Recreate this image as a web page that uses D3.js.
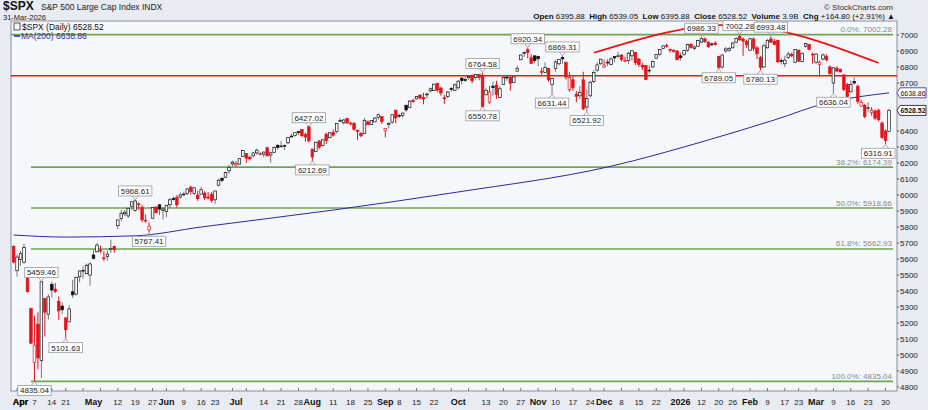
<!DOCTYPE html>
<html><head><meta charset="utf-8">
<script src="https://cdn.jsdelivr.net/npm/d3@7"></script>
<style>body{margin:0;background:#e8ebf1;font-family:"Liberation Sans",Arial,sans-serif}</style>
</head><body><svg id="c" width="928" height="410"></svg>
<script>
const startDate="2025-03-28", endDate="2026-03-31";
const holidays=["2025-04-18","2025-05-26","2025-06-19","2025-07-04","2025-09-01","2025-11-27","2025-12-25","2026-01-01","2026-01-19","2026-02-16"];
// [open, high, low, close]
const ohlc=[
[5679,5685,5572,5581],[5527,5627,5489,5612],[5597,5650,5558,5633],[5580,5695,5571,5671],[5492,5500,5390,5396],[5292,5292,5069,5074],
[4953,5246,4835,5062],[5193,5267,4910,4982],[4965,5460,4856,5457],[5353,5353,5115,5268],[5255,5381,5221,5363],
[5441,5459,5358,5406],[5411,5450,5387,5397],[5335,5367,5220,5276],[5306,5329,5255,5283],
[5232,5233,5102,5158],[5207,5309,5207,5288],[5395,5469,5356,5376],[5381,5489,5371,5485],[5489,5528,5455,5525],
[5529,5554,5478,5529],[5508,5571,5506,5561],[5499,5581,5433,5569],[5625,5659,5597,5604],[5645,5700,5642,5687],
[5655,5683,5635,5650],[5605,5649,5586,5607],[5615,5654,5589,5631],[5662,5721,5638,5664],[5679,5684,5640,5660],
[5808,5846,5786,5844],[5854,5906,5836,5886],[5882,5906,5869,5892],[5869,5925,5857,5917],[5930,5958,5907,5958],
[5903,5969,5895,5963],[5945,5953,5908,5940],[5922,5939,5830,5845],[5842,5878,5826,5842],[5782,5829,5767,5802],
[5855,5922,5855,5922],[5925,5929,5886,5889],[5939,5943,5874,5912],[5903,5923,5847,5912],
[5897,5937,5862,5936],[5939,5982,5918,5970],[5978,5991,5966,5971],[5985,5999,5921,5939],[5987,6017,5978,6000],
[6005,6021,5994,6006],[6009,6043,6000,6038],[6049,6059,6002,6022],[6009,6046,6001,6045],[6000,6027,5963,5977],
[6005,6051,6004,6033],[6012,6024,5968,5982],[5987,6018,5971,5981],[6003,6019,5952,5967],
[5970,6026,5944,6025],[6061,6101,6056,6092],[6105,6108,6080,6092],[6111,6146,6106,6141],[6151,6188,6132,6173],
[6194,6215,6175,6205],[6188,6211,6177,6198],[6193,6228,6191,6227],[6240,6284,6240,6279],
[6259,6262,6201,6230],[6237,6242,6217,6226],[6245,6269,6237,6263],[6263,6290,6251,6280],[6256,6266,6246,6259],
[6255,6272,6236,6268],[6295,6302,6244,6244],[6250,6268,6201,6264],[6265,6304,6263,6297],[6311,6315,6285,6297],
[6304,6336,6303,6306],[6307,6316,6281,6309],[6326,6360,6317,6359],[6368,6382,6360,6363],[6371,6390,6365,6389],
[6397,6397,6375,6390],[6409,6410,6360,6371],[6378,6390,6332,6362],[6427,6427,6327,6339],[6287,6288,6213,6238],
[6272,6330,6272,6330],[6337,6344,6287,6299],[6310,6349,6303,6345],[6380,6390,6318,6340],[6358,6395,6355,6389],
[6390,6410,6365,6374],[6396,6446,6386,6446],[6466,6481,6457,6466],[6451,6474,6441,6469],[6478,6482,6445,6450],
[6445,6457,6434,6449],[6446,6456,6400,6411],[6405,6407,6343,6396],[6384,6394,6361,6370],[6385,6481,6380,6467],
[6457,6466,6438,6439],[6441,6466,6438,6465],[6457,6486,6457,6481],[6486,6509,6472,6502],[6491,6491,6444,6460],
[6401,6416,6360,6416],[6442,6454,6419,6448],[6456,6503,6445,6502],[6530,6532,6448,6482],
[6498,6508,6480,6495],[6496,6513,6484,6512],[6561,6563,6519,6532],[6546,6592,6543,6587],[6591,6601,6577,6584],
[6601,6619,6598,6615],[6625,6627,6598,6606],[6609,6639,6567,6600],[6626,6640,6603,6631],[6651,6671,6640,6664],
[6652,6695,6652,6693],[6698,6698,6642,6656],[6669,6674,6621,6638],[6607,6626,6570,6605],[6615,6650,6605,6644],
[6665,6674,6645,6661],[6654,6699,6651,6688],[6670,6718,6660,6711],[6731,6731,6691,6715],[6722,6750,6707,6716],
[6733,6749,6719,6740],[6746,6754,6698,6714],[6734,6754,6722,6753],[6753,6755,6717,6735],[6743,6765,6551,6553],
[6626,6671,6626,6654],[6580,6680,6570,6644],[6680,6709,6621,6671],[6687,6714,6600,6629],[6610,6678,6605,6664],
[6690,6744,6690,6735],[6737,6752,6715,6735],[6735,6746,6652,6699],[6704,6750,6699,6738],[6774,6808,6774,6792],
[6845,6877,6845,6875],[6885,6900,6863,6891],[6908,6920,6855,6890],[6858,6880,6820,6822],[6870,6870,6825,6840],
[6866,6869,6805,6852],[6770,6795,6751,6771],[6765,6830,6760,6796],[6790,6795,6708,6720],[6690,6733,6631,6728],
[6790,6842,6770,6832],[6820,6850,6810,6846],[6860,6869,6820,6851],[6830,6830,6720,6737],[6660,6770,6645,6734],
[6720,6745,6650,6672],[6630,6650,6580,6617],[6620,6680,6600,6642],[6720,6770,6530,6538],[6550,6660,6522,6603],
[6620,6715,6610,6705],[6710,6780,6700,6766],[6780,6830,6770,6813],[6820,6851,6815,6849],
[6800,6845,6795,6812],[6830,6850,6805,6829],[6815,6860,6810,6850],[6865,6866,6830,6857],[6865,6895,6858,6870],
[6875,6880,6835,6846],[6840,6865,6830,6840],[6840,6895,6820,6886],[6870,6905,6840,6901],[6890,6895,6810,6827],
[6850,6855,6800,6816],[6810,6825,6780,6800],[6810,6812,6720,6721],[6780,6810,6760,6775],[6800,6840,6795,6834],
[6855,6880,6850,6878],[6880,6910,6870,6910],[6915,6935,6910,6932],[6935,6945,6920,6930],
[6910,6915,6890,6905],[6905,6910,6890,6896],[6900,6905,6845,6845],
[6870,6890,6840,6858],[6880,6910,6870,6902],[6905,6945,6895,6940],[6940,6950,6915,6921],[6915,6935,6905,6925],
[6930,6970,6925,6966],[6955,6986,6950,6977],[6975,6985,6950,6960],[6955,6960,6920,6926],[6940,6955,6930,6944],
[6950,6960,6935,6940],[6865,6870,6789,6797],[6800,6880,6790,6875],[6900,6925,6890,6913],[6905,6925,6895,6916],
[6920,6955,6915,6950],[6955,6985,6950,6979],[6990,7002,6965,6970],[6975,6985,6870,6962],[6960,6970,6920,6939],
[6905,6985,6900,6976],[6975,6985,6900,6917],[6920,6930,6850,6883],[6860,6870,6780,6798],[6800,6945,6795,6932],
[6920,6975,6915,6965],[6975,6993,6950,6955],[6960,6975,6935,6941],[6965,6970,6825,6833],[6840,6855,6815,6836],
[6820,6870,6800,6843],[6860,6895,6850,6881],[6880,6890,6860,6870],[6830,6910,6825,6909],
[6905,6910,6830,6837],[6835,6890,6830,6886],[6930,6950,6920,6946],[6940,6945,6905,6910],[6880,6890,6820,6879],
[6830,6885,6820,6881],[6815,6840,6740,6830],[6850,6885,6840,6875],[6865,6880,6835,6845],[6800,6810,6750,6760],
[6700,6800,6636,6795],[6790,6805,6770,6775],[6785,6790,6765,6770],[6750,6755,6650,6660],[6690,6700,6605,6615],
[6645,6715,6640,6690],[6710,6735,6690,6700],[6680,6690,6570,6585],[6555,6595,6550,6578],[6560,6570,6480,6490],
[6540,6580,6520,6545],[6515,6550,6495,6530],[6525,6535,6470,6480],[6530,6540,6460,6470],[6450,6460,6350,6360],
[6400,6410,6317,6340],[6396,6539,6396,6529]];
// MA(200) read at [dayIndex, value]
const maPoints=[[0,5750],[15,5737],[35,5745],[54,5800],[92,5906],[128,6019],[171,6175],[200,6344],[219,6469],[234,6575],[252,6638]];
const fibLevels=[["0.0%",7002.28],["38.2%",6174.39],["50.0%",5918.66],["61.8%",5662.93],["100.0%",4835.04]];
const resistance=6745;
const arcPoints=[[167,6889],[208,7062],[249,6825]];
// [dayIndex, value, labelText, position]
const callouts=[[6,4835,"4835.04","below"],[8,5460,"5459.46","above"],[15,5102,"5101.63","below"],[35,5969,"5968.61","above"],
[39,5767,"5767.41","below"],[85,6427,"6427.02","above"],[86,6213,"6212.69","below"],[135,6765,"6764.58","above"],
[135,6551,"6550.78","below"],[148,6920,"6920.34","above"],[155,6631,"6631.44","below"],[158,6869,"6869.31","above"],
[165,6522,"6521.92","below"],[198,6986,"6986.33","above"],[203,6789,"6789.05","below"],[209,7002,"7002.28","above"],
[215,6780,"6780.13","below"],[218,6993,"6993.48","above"],[236,6636,"6636.04","below"],[251,6317,"6316.91","below"]];
const yTicks=[4800,4900,5000,5100,5200,5300,5400,5500,5600,5700,5800,5900,6000,6100,6200,6300,6400,6500,6600,6700,6800,6900,7000];
const monthNames=["Jan","Feb","Mar","Apr","May","Jun","Jul","Aug","Sep","Oct","Nov","Dec"];

const dates=[];
{let d=new Date(startDate+"T12:00:00Z");const e=new Date(endDate+"T12:00:00Z");
 while(d<=e){const s=d.toISOString().slice(0,10),w=d.getUTCDay();
  if(w!==0&&w!==6&&!holidays.includes(s))dates.push(new Date(d));d=new Date(d.getTime()+864e5);}}

const svg=d3.select("#c");
const L=11,R=897,T=21,B=391;
const x=d3.scaleLinear().domain([0,ohlc.length-1]).range([13.6,889]);
const y=d3.scaleLinear().domain([7000,4900]).range([35,371]);
const NARROW='"Liberation Sans Narrow","Liberation Sans",Arial,sans-serif';

svg.append("rect").attr("x",L).attr("y",T).attr("width",R-L).attr("height",B-T).attr("fill","#f6f7fb").attr("stroke","#8a8f9a");
svg.append("text").attr("x",3).attr("y",10).attr("font-size",12).attr("font-weight","bold").attr("fill","#111").text("$SPX");
svg.append("text").attr("x",41).attr("y",9.5).attr("font-size",8.5).attr("fill","#222").text("S&P 500 Large Cap Index  INDX");
svg.append("text").attr("x",3).attr("y",19.5).attr("font-size",7.5).attr("fill","#222").text("31-Mar-2026");
svg.append("text").attr("x",893).attr("y",10).attr("font-size",8).attr("text-anchor","end").attr("fill","#333").text("© StockCharts.com");
const hdr=svg.append("text").attr("x",895).attr("y",18.5).attr("font-size",8).attr("text-anchor","end").attr("fill","#111");
[["Open ",1],["6395.88  ",0],["High ",1],["6539.05  ",0],["Low ",1],["6395.88  ",0],["Close ",1],["6528.52  ",0],["Volume ",1],["3.9B  ",0],["Chg ",1],["+164.80 (+2.91%) ▲",0]]
.forEach(([t,b])=>hdr.append("tspan").attr("font-weight",b?"bold":"normal").attr("xml:space","preserve").text(t));

svg.append("clipPath").attr("id","cp").append("rect").attr("x",L).attr("y",T).attr("width",R-L).attr("height",B-T);
const g=svg.append("g").attr("clip-path","url(#cp)");

fibLevels.forEach(([p,v],i)=>{
  g.append("line").attr("x1",i===0?L:31).attr("x2",893).attr("y1",y(v)).attr("y2",y(v)).attr("stroke","#6aa84f").attr("stroke-width",1.6);
  g.append("text").attr("x",892).attr("y",y(v)-2.5).attr("text-anchor","end").attr("font-size",8).attr("fill","#888").text(p+": "+v.toFixed(2));
});
g.append("line").attr("x1",L).attr("x2",R).attr("y1",y(resistance)).attr("y2",y(resistance)).attr("stroke","#e31a1c").attr("stroke-width",1.4);
g.append("path").datum(maPoints).attr("fill","none").attr("stroke","#2a2aa0").attr("stroke-width",1)
 .attr("d",d3.line().x(d=>x(d[0])).y(d=>y(d[1])).curve(d3.curveMonotoneX));
g.append("path").datum(arcPoints).attr("fill","none").attr("stroke","#ee1111").attr("stroke-width",1.8)
 .attr("d",d3.line().x(d=>x(d[0])).y(d=>y(d[1])).curve(d3.curveNatural));

const bw=2.6;
ohlc.forEach((d,i)=>{
  const [o,h,l,c]=d; const prev=i>0?ohlc[i-1][3]:o;
  const col=c>=prev?"#111":"#e3141b";
  const cx=x(i);
  g.append("line").attr("x1",cx).attr("x2",cx).attr("y1",y(h)).attr("y2",y(l)).attr("stroke",c>=prev?"#777":"#e3141b").attr("stroke-width",1);
  const top=y(Math.max(o,c)),bot=y(Math.min(o,c));
  g.append("rect").attr("x",cx-bw/2).attr("y",top).attr("width",bw).attr("height",Math.max(0.8,bot-top))
   .attr("fill",c<o?col:"#fff").attr("stroke",col).attr("stroke-width",0.7);
});

const co=svg.append("g");
callouts.forEach(([i,v,t,pos])=>{
  const cx=x(i),py=y(v);
  const w=t.length*4.2+4,hgt=10;
  const by=pos==="above"?py-4-hgt:py+4;
  const edge=pos==="above"?py-4:py+4;
  co.append("path").attr("d",`M${cx-3},${edge} L${cx},${py} L${cx+3},${edge}`).attr("fill","none").attr("stroke","#999").attr("stroke-width",0.8);
  let bx=Math.min(Math.max(cx-w/2,L+2),R-w-2);
  co.append("rect").attr("x",bx).attr("y",by).attr("width",w).attr("height",hgt).attr("fill","#fff").attr("stroke","#999").attr("stroke-width",0.8);
  co.append("text").attr("x",bx+w/2).attr("y",by+8).attr("text-anchor","middle").attr("font-size",8).attr("fill","#222").text(t);
});

svg.append("rect").attr("x",14).attr("y",23).attr("width",6).attr("height",7).attr("fill","none").attr("stroke","#333").attr("stroke-width",0.8);
svg.append("text").attr("x",22).attr("y",30).attr("font-size",8.5).attr("fill","#111").text("$SPX (Daily) 6528.52");
svg.append("line").attr("x1",14).attr("x2",20).attr("y1",36).attr("y2",36).attr("stroke","#2a2aa0").attr("stroke-width",1.5);
svg.append("text").attr("x",21).attr("y",39).attr("font-size",8.5).attr("fill","#2a2aa0").text("MA(200) 6638.86");

const ya=svg.append("g").attr("font-family",NARROW);
yTicks.forEach(v=>{const py=y(v);if(py<T+3||py>B-2)return;
  if(Math.abs(py-y(6638.86))<7||Math.abs(py-y(6528.52))<7)return;
  ya.append("line").attr("x1",R).attr("x2",R+2).attr("y1",py).attr("y2",py).attr("stroke","#555");
  ya.append("text").attr("x",R+3).attr("y",py+3).attr("font-size",8).attr("fill","#222").text(v);});
[[6638.86,"#2a2aa0","normal"],[6528.52,"#111","bold"]].forEach(([v,col,fw])=>{
  const py=y(v);
  ya.append("path").attr("d",`M${R},${py} L${R+3},${py-5} L${R+29},${py-5} L${R+29},${py+5} L${R+3},${py+5} Z`).attr("fill","#fff").attr("stroke",col).attr("stroke-width",0.8);
  ya.append("text").attr("x",R+3.5).attr("y",py+3).attr("font-size",8).attr("font-weight",fw).attr("fill","#111")
    .attr("textLength",25).attr("lengthAdjust","spacingAndGlyphs").text(v.toFixed(2));
});

const xa=svg.append("g");const placed=[];
const monthLabels=[],weekLabels=[];
dates.forEach((d,i)=>{
  const p=dates[i-1];
  if(p&&d.getUTCMonth()!==p.getUTCMonth()){
    const m=d.getUTCMonth();monthLabels.push([i,m===0?String(d.getUTCFullYear()):monthNames[m]]);
  }
  if(p&&((d-p)/864e5>=3||d.getUTCDay()<p.getUTCDay())) weekLabels.push([i,String(d.getUTCDate())]);
});
monthLabels.unshift([2,"Apr"]);
monthLabels.forEach(([i,t])=>{const w=t.length*5.3;placed.push([x(i)-w/2,x(i)+w/2]);
  xa.append("text").attr("x",x(i)).attr("y",405).attr("text-anchor","middle").attr("font-size",9).attr("font-weight","bold").attr("fill","#111").text(t);});
weekLabels.forEach(([i,t])=>{
  xa.append("line").attr("x1",x(i)).attr("x2",x(i)).attr("y1",B).attr("y2",B-3).attr("stroke","#777");
  const w=t.length*4.4,a=x(i)-w/2,b=x(i)+w/2;
  if(placed.some(([p,q])=>a<q+0.5&&b>p-0.5))return;placed.push([a,b]);
  xa.append("text").attr("x",x(i)).attr("y",405).attr("text-anchor","middle").attr("font-size",8).attr("fill","#222").text(t);});
</script></body></html>
